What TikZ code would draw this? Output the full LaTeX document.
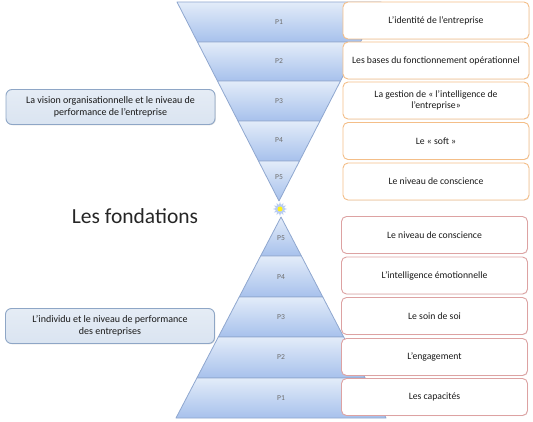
\documentclass[tikz,border=0pt]{standalone}
\usepackage{fontspec}
\setmainfont{Carlito}
\usetikzlibrary{shapes.geometric,shadows}
\definecolor{bandtop}{HTML}{E3ECF9}
\definecolor{bandbot}{HTML}{A7C1EC}
\definecolor{bandline}{HTML}{8FA7CF}
\definecolor{orangeline}{HTML}{F4BE88}
\definecolor{pinkline}{HTML}{DDA2A2}
\definecolor{leftfill}{HTML}{DAE4F1}
\definecolor{leftline}{HTML}{8EA6C6}
\definecolor{plabel}{HTML}{6E6E6E}
\tikzset{
  band/.style={draw=bandline, line width=0.8pt, top color=bandtop, bottom color=bandbot, line join=round},
  plab/.style={font=\fontsize{7.6}{9}\selectfont, text=plabel},
  obox/.style={draw=orangeline, line width=0.9pt, fill=white, rounded corners=5pt, minimum width=186pt, minimum height=37pt, align=center, font=\fontsize{9.7}{11.5}\selectfont, text=black!90, drop shadow={shadow xshift=0.6pt, shadow yshift=-0.6pt, opacity=0.15}},
  pbox/.style={obox, draw=pinkline},
  lbox/.style={draw=leftline, line width=0.9pt, top color=leftfill!70!white, bottom color=leftfill, rounded corners=6pt, minimum width=209pt, minimum height=35pt, align=center, font=\fontsize{10}{12}\selectfont, text=black!90, drop shadow={shadow xshift=0.8pt, shadow yshift=-0.8pt, opacity=0.25}},
}
\begin{document}
\begin{tikzpicture}[x=1pt,y=-1pt]
\useasboundingbox (0,0) rectangle (533,422);
% top inverted triangle
\path[band] (177,2) -- (381,2) -- (360.5,42) -- (197.5,42) -- cycle;
\path[band] (197.5,42) -- (360.5,42) -- (340.5,81) -- (217.5,81) -- cycle;
\path[band] (217.5,81) -- (340.5,81) -- (320,121) -- (238,121) -- cycle;
\path[band] (238,121) -- (320,121) -- (299.5,161) -- (258.5,161) -- cycle;
\path[band] (258.5,161) -- (299.5,161) -- (279,201) -- cycle;
\node[plab] (t1) at (279,22) {P1};
\node[plab] (t2) at (279,61.5) {P2};
\node[plab] (t3) at (279,101) {P3};
\node[plab] (t4) at (279,140) {P4};
\node[plab] (t5) at (279,177) {P5};
% bottom pyramid
\path[band] (281,217) -- (301.4,256) -- (260.6,256) -- cycle;
\path[band] (260.6,256) -- (301.4,256) -- (322.8,297) -- (239.2,297) -- cycle;
\path[band] (239.2,297) -- (322.8,297) -- (343.7,337) -- (218.3,337) -- cycle;
\path[band] (218.3,337) -- (343.7,337) -- (365.1,378) -- (196.9,378) -- cycle;
\path[band] (196.9,378) -- (365.1,378) -- (386,418) -- (176,418) -- cycle;
\node[plab] (b5) at (281,238) {P5};
\node[plab] (b4) at (281,277) {P4};
\node[plab] (b3) at (281,317) {P3};
\node[plab] (b2) at (281,357) {P2};
\node[plab] (b1) at (281,398) {P1};
% star
\node[star, star points=12, star point ratio=1.7, minimum size=14pt, inner sep=0pt, fill=bandbot!80!white, draw=none] (star) at (280,209) {};
\node[circle, fill=yellow!90!white, minimum size=5pt, inner sep=0pt] (starc) at (280,209) {};
% right boxes top
\node[obox] (r1) at (436,20.5) {L’identité de l’entreprise};
\node[obox] (r2) at (436,60.5) {Les bases du fonctionnement opérationnel};
\node[obox] (r3) at (436,100.5) {La gestion de « l’intelligence de\\ l’entreprise»};
\node[obox] (r4) at (436,141) {Le « soft »};
\node[obox] (r5) at (436,181.5) {Le niveau de conscience};
% right boxes bottom
\node[pbox] (s5) at (434.5,235) {Le niveau de conscience};
\node[pbox] (s4) at (434.5,275.5) {L’intelligence émotionnelle};
\node[pbox] (s3) at (434.5,316) {Le soin de soi};
\node[pbox] (s2) at (434.5,357) {L’engagement};
\node[pbox] (s1) at (434.5,397) {Les capacités};
% left boxes
\node[lbox] (lv) at (110.5,107) {La vision organisationnelle et le niveau de\\ performance de l’entreprise};
\node[lbox] (li) at (110,326) {L’individu et le niveau de performance\\ des entreprises};
\node[font=\fontsize{21.5}{25}\selectfont, text=black!85] (fond) at (135,216) {Les fondations};
\end{tikzpicture}
\end{document}
